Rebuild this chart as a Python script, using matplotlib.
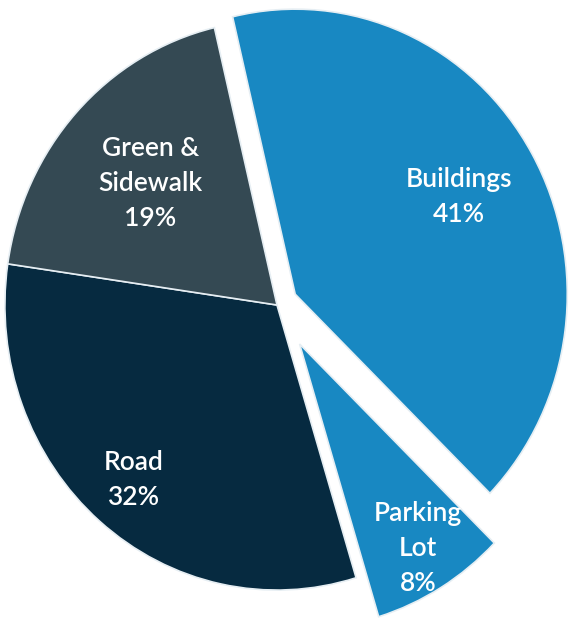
import matplotlib.pyplot as plt
import numpy as np

# Share of surface area by land use
labels = ["Buildings", "Parking\nLot", "Road", "Green &\nSidewalk"]
shares = [41, 8, 32, 19]
colors = ["#1888c2", "#1888c2", "#062a40", "#344953"]
explode = [0.077, 0.16, 0, 0]

# label distance from the wedge centre, as a fraction of the radius
label_r = [0.69, 0.84, 0.81, 0.63]

fig = plt.figure(figsize=(5.7, 6.18), dpi=100)
ax = fig.add_axes([0, 0, 1, 1])

wedges, _ = ax.pie(shares, colors=colors, explode=explode, startangle=103.3,
                   counterclock=False,
                   wedgeprops=dict(edgecolor="#e6eef3", linewidth=1.2))

for w, lab, pct, r in zip(wedges, labels, shares, label_r):
    mid = np.deg2rad((w.theta1 + w.theta2) / 2)
    cx, cy = w.center
    ax.text(cx + r * np.cos(mid), cy + r * np.sin(mid), f"{lab}\n{pct}%",
            ha="center", va="center", color="white", fontsize=19,
            family="Lato", fontweight="semibold", linespacing=1.5)

# the pie in the original is slightly taller than wide
ax.set_aspect("auto")
ax.set_xlim(-1.018, 1.077)
ax.set_ylim(-1.098, 1.070)
ax.axis("off")

fig.savefig("out.png", dpi=100, facecolor="white")
